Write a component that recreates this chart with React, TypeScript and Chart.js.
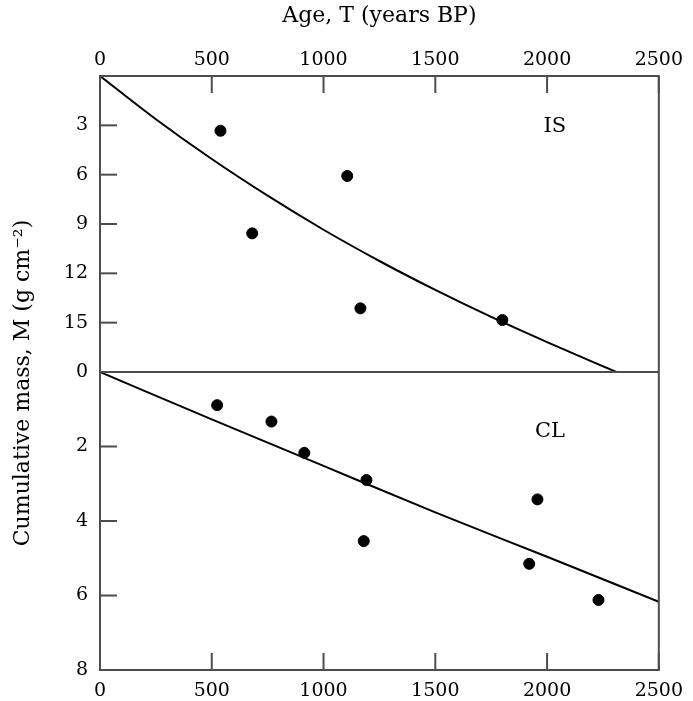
import React, { useEffect, useRef } from "react";
import { Chart, registerables } from "chart.js";

Chart.register(...registerables);

// ---- data ----
const ageTicks = [0, 500, 1000, 1500, 2000, 2500];
const massTicksIS = [3, 6, 9, 12, 15];
const massTicksCL = [0, 2, 4, 6, 8];

// IS core (top panel)
const ageIS = [539, 681, 1106, 1165, 1800];
const massIS = [3.33, 9.57, 6.08, 14.13, 14.84];
const curveAgeIS = [0, 250, 500, 750, 1000, 1250, 1500, 1750, 2000, 2310];
const curveMassIS = [0, 2.63, 5.05, 7.28, 9.35, 11.25, 13.01, 14.65, 16.18, 18.0];

// CL core (bottom panel)
const ageCL = [524, 767, 914, 1192, 1180, 1957, 1920, 2230];
const massCL = [0.89, 1.33, 2.17, 2.9, 4.54, 3.42, 5.15, 6.12];
const curveAgeCL = [0, 500, 1000, 1500, 2000, 2500];
const curveMassCL = [0, 1.27, 2.52, 3.77, 4.96, 6.17];

const labelIS = { text: "IS", age: 2035, mass: 3.1 };
const labelCL = { text: "CL", age: 2013, mass: 1.61 };

const xTitle = "Age, T (years BP)";
const yTitle = "Cumulative mass, M (g cm\u207B\u00B2)";

const FONT = "'DejaVu Serif', 'Liberation Serif', serif";
const TEXT = "#000000";
const FRAME = "#4d4d4d";
const TICK_LEN = 17;

const pts = (xs: number[], ys: number[]) => xs.map((x, i) => ({ x, y: ys[i] }));
const plain = (v: any) => String(v);

export default function App() {
  const ref = useRef<HTMLCanvasElement>(null);

  useEffect(() => {
    const canvas = ref.current;
    if (!canvas) return;

    const framePlugin = {
      id: "frameAndTicks",
      afterDatasetsDraw(chart: any) {
        const { ctx, chartArea: a, scales } = chart;
        const xB = scales.x;
        const yT = scales.yTop;
        const yB = scales.yBottom;
        ctx.save();
        ctx.strokeStyle = FRAME;
        ctx.lineWidth = 2;
        const line = (x1: number, y1: number, x2: number, y2: number) => {
          ctx.beginPath();
          ctx.moveTo(x1, y1);
          ctx.lineTo(x2, y2);
          ctx.stroke();
        };
        ctx.strokeRect(a.left, a.top, a.right - a.left, a.bottom - a.top);
        const midY = yB.getPixelForValue(0);
        line(a.left, midY, a.right, midY);
        massTicksIS.forEach((v) => {
          const y = yT.getPixelForValue(v);
          line(a.left, y, a.left + TICK_LEN, y);
        });
        massTicksCL.forEach((v) => {
          const y = yB.getPixelForValue(v);
          line(a.left, y, a.left + TICK_LEN, y);
        });
        ageTicks.forEach((v) => {
          const x = xB.getPixelForValue(v);
          line(x, a.bottom, x, a.bottom - TICK_LEN);
          line(x, a.top, x, a.top + TICK_LEN);
        });

        ctx.fillStyle = TEXT;
        ctx.font = `21px ${FONT}`;
        ctx.textAlign = "center";
        ctx.textBaseline = "middle";
        ctx.fillText(labelIS.text, xB.getPixelForValue(labelIS.age), yT.getPixelForValue(labelIS.mass));
        ctx.fillText(labelCL.text, xB.getPixelForValue(labelCL.age), yB.getPixelForValue(labelCL.mass));

        ctx.translate(23, (a.top + a.bottom) / 2 + 10);
        ctx.rotate(-Math.PI / 2);
        ctx.font = `22px ${FONT}`;
        ctx.fillText(yTitle, 0, 0);
        ctx.restore();
      },
    };

    const tickFont = { family: FONT, size: 19 };
    const hiddenGrid = { display: false, drawTicks: false };
    const noBorder = { display: false };

    const chart = new Chart(canvas, {
      type: "scatter",
      data: {
        datasets: [
          {
            label: "IS model",
            data: pts(curveAgeIS, curveMassIS),
            showLine: true,
            borderColor: "#000",
            borderWidth: 2,
            pointRadius: 0,
            cubicInterpolationMode: "monotone",
            xAxisID: "x",
            yAxisID: "yTop",
          },
          {
            label: "IS",
            data: pts(ageIS, massIS),
            backgroundColor: "#000",
            borderColor: "#000",
            pointRadius: 5.5,
            xAxisID: "x",
            yAxisID: "yTop",
          },
          {
            label: "CL model",
            data: pts(curveAgeCL, curveMassCL),
            showLine: true,
            borderColor: "#000",
            borderWidth: 2,
            pointRadius: 0,
            cubicInterpolationMode: "monotone",
            xAxisID: "x",
            yAxisID: "yBottom",
          },
          {
            label: "CL",
            data: pts(ageCL, massCL),
            backgroundColor: "#000",
            borderColor: "#000",
            pointRadius: 5.5,
            xAxisID: "x",
            yAxisID: "yBottom",
          },
        ],
      },
      options: {
        animation: false,
        responsive: false,
        layout: { padding: { left: 0, right: 28, top: 0, bottom: 0 } },
        plugins: { legend: { display: false }, tooltip: { enabled: false } },
        scales: {
          x: {
            type: "linear",
            position: "bottom",
            min: 0,
            max: 2500,
            afterBuildTicks: (s: any) => {
              s.ticks = ageTicks.map((value) => ({ value }));
            },
            afterFit: (s: any) => {
              s.height = 31;
            },
            grid: hiddenGrid,
            border: noBorder,
            ticks: { font: tickFont, color: TEXT, padding: 10, maxRotation: 0, autoSkip: false, callback: plain },
          },
          xTop: {
            type: "linear",
            position: "top",
            min: 0,
            max: 2500,
            afterBuildTicks: (s: any) => {
              s.ticks = ageTicks.map((value) => ({ value }));
            },
            afterFit: (s: any) => {
              s.height = 76;
            },
            grid: hiddenGrid,
            border: noBorder,
            ticks: { font: tickFont, color: TEXT, padding: 5, maxRotation: 0, autoSkip: false, callback: plain },
            title: {
              display: true,
              text: xTitle,
              font: { family: FONT, size: 22 },
              color: TEXT,
              padding: { top: 3, bottom: 0 },
            },
          },
          yTop: {
            type: "linear",
            position: "left",
            stack: "mass",
            stackWeight: 296,
            weight: 1,
            min: 0,
            max: 18,
            reverse: true,
            afterBuildTicks: (s: any) => {
              s.ticks = massTicksIS.map((value) => ({ value }));
            },
            afterFit: (s: any) => {
              s.width = 100;
            },
            grid: hiddenGrid,
            border: noBorder,
            ticks: { font: tickFont, color: TEXT, padding: 12, autoSkip: false, callback: plain },
          },
          yBottom: {
            type: "linear",
            position: "left",
            stack: "mass",
            stackWeight: 298,
            weight: 0,
            min: 0,
            max: 8,
            reverse: true,
            afterBuildTicks: (s: any) => {
              s.ticks = massTicksCL.map((value) => ({ value }));
            },
            afterFit: (s: any) => {
              s.width = 100;
            },
            grid: hiddenGrid,
            border: noBorder,
            ticks: { font: tickFont, color: TEXT, padding: 12, autoSkip: false, callback: plain },
          },
        },
      },
      plugins: [framePlugin],
    } as any);

    return () => chart.destroy();
  }, []);

  return (
    <div style={{ position: "fixed", left: 0, top: 0, width: 693, height: 701, background: "#ffffff" }}>
      <canvas ref={ref} width={693} height={701} style={{ display: "block", width: 693, height: 701 }} />
    </div>
  );
}
